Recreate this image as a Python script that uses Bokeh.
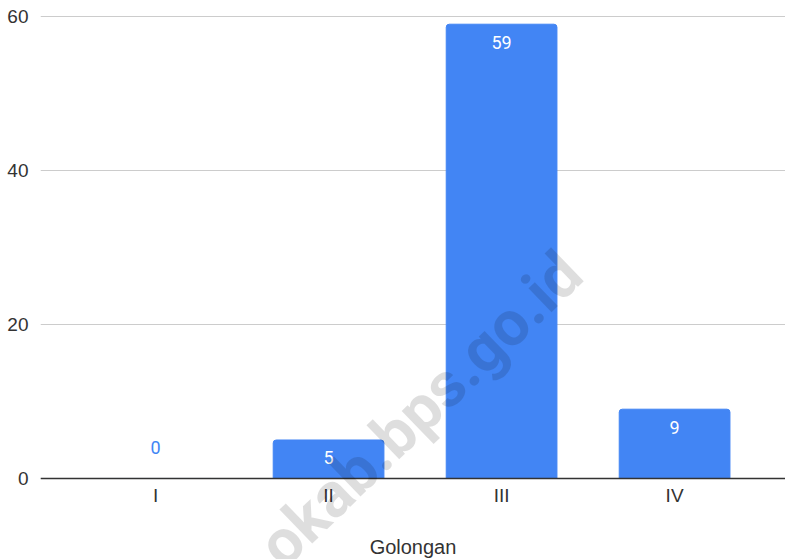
from bokeh.plotting import figure
from bokeh.models import ColumnDataSource, Range1d, FixedTicker, Label
from bokeh.core.properties import value
from bokeh.embed import file_html
from bokeh.resources import INLINE

categories = ["I", "II", "III", "IV"]
counts = [0, 5, 59, 9]
y_ticks = [0, 20, 40, 60]
x_title = "Golongan"
watermark = "okab.bps.go.id"

BLUE = "#4285F4"
AXFONT = "Liberation Sans"
LBLFONT = "Roboto"

xs = list(range(len(categories)))
label_color = ["white" if v > 0 else BLUE for v in counts]
label_off = [18 if v > 0 else -31 for v in counts]
src = ColumnDataSource(dict(x=xs, top=counts, lbl=[str(v) for v in counts],
                            col=label_color, off=label_off))

# frame reaches the bottom of the page; the x axis is pinned at y = 0
p = figure(frame_width=745, frame_height=549, output_backend="svg", toolbar_location=None,
           x_range=Range1d(-0.665, 3.641), y_range=Range1d(-10.52, 60.78),
           min_border_left=40, min_border_right=0, min_border_top=10, min_border_bottom=0)
p.outline_line_color = None
p.background_fill_color = "white"
p.border_fill_color = "white"

p.vbar(x="x", top="top", width=0.64, bottom=0, source=src, color=BLUE,
       border_radius=(3, 3, 0, 0))
p.text(x="x", y="top", text="lbl", source=src, text_color="col", y_offset="off",
       text_align="center", text_baseline="middle", text_font=value(LBLFONT),
       text_font_size="18px")

p.xgrid.grid_line_color = None
p.ygrid.grid_line_color = "#cccccc"
p.ygrid.grid_line_width = 1
p.yaxis.ticker = FixedTicker(ticks=y_ticks)
p.xaxis.ticker = FixedTicker(ticks=xs)
p.xaxis.major_label_overrides = {i: c for i, c in enumerate(categories)}
p.xaxis.fixed_location = 0

for ax in (p.xaxis[0], p.yaxis[0]):
    ax.major_tick_line_color = None
    ax.minor_tick_line_color = None
    ax.major_tick_in = 0
    ax.major_tick_out = 0
    ax.major_label_text_font = AXFONT
    ax.major_label_text_font_size = "19px"
    ax.major_label_text_color = "#333333"
p.yaxis.axis_line_color = None
p.yaxis.major_label_standoff = 12
p.xaxis.axis_line_color = "#333333"
p.xaxis.axis_line_width = 1.5
p.xaxis.major_label_standoff = 7
p.xaxis.axis_label = x_title
p.xaxis.axis_label_text_font = AXFONT
p.xaxis.axis_label_text_font_size = "20px"
p.xaxis.axis_label_text_font_style = "normal"
p.xaxis.axis_label_text_color = "#333333"
p.xaxis.axis_label_standoff = 26

wm = Label(x=1.53, y=9.0, text=watermark,
           angle=44, angle_units="deg", level="overlay",
           text_align="center", text_baseline="alphabetic", text_font=LBLFONT,
           text_font_size="63px", text_font_style="bold", text_color="black",
           text_alpha=0.13)
p.add_layout(wm)

open("out.html", "w").write(file_html(p, INLINE))
